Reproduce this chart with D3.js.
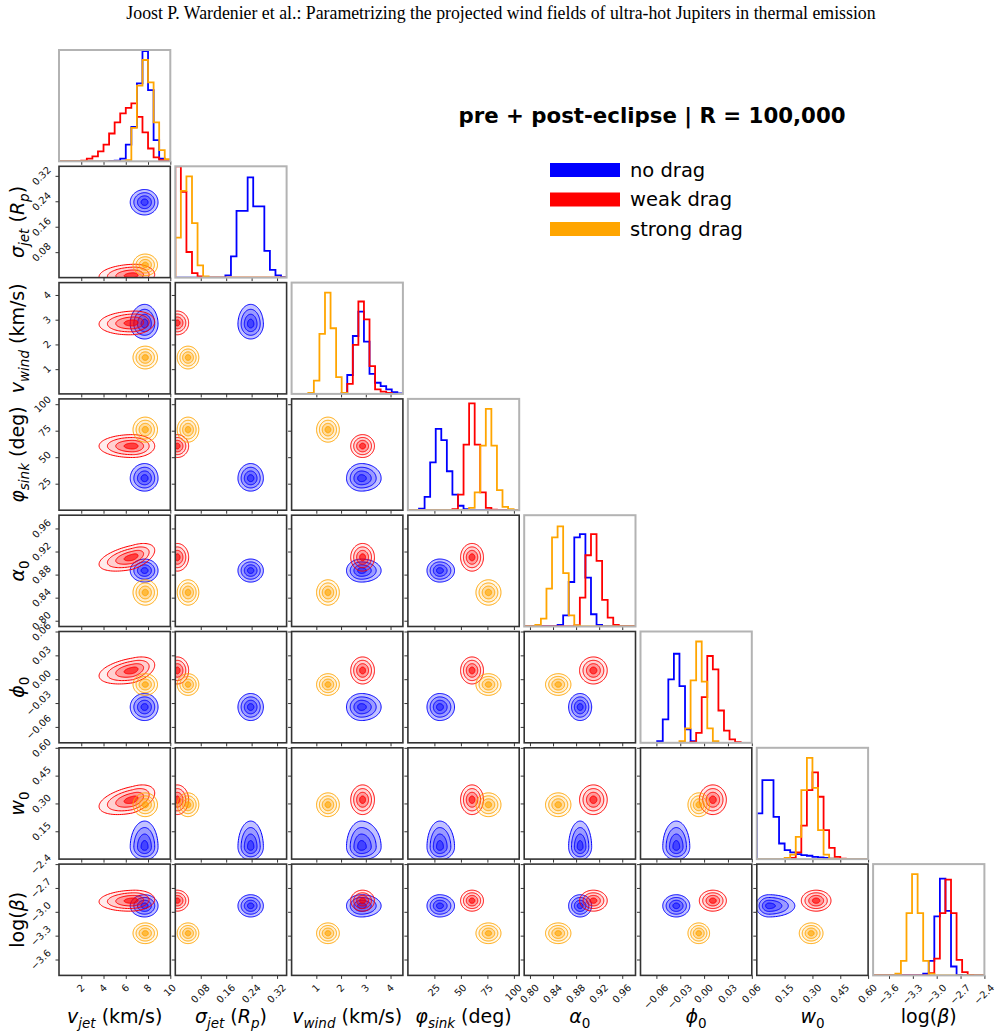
<!DOCTYPE html>
<html>
<head>
<meta charset="utf-8">
<title>Corner plot</title>
<script src="https://cdn.jsdelivr.net/npm/d3@7"></script>
<style>
  body { margin: 0; background: #fff; }
  svg { display: block; }
</style>
</head>
<body>
<script>
// models
const models = ["no drag", "weak drag", "strong drag"];
const modelColors = ["#0000ff", "#ff0000", "#ffa500"];

// parameters: axis ranges, ticks and tick labels
const paramRanges = [[0, 10], [0, 0.35], [0, 4.5], [0, 105], [0.79, 0.983], [-0.08, 0.06], [0, 0.6], [-3.8, -2.4]];
const paramTicks = [
  [2, 4, 6, 8, 10], [0.08, 0.16, 0.24, 0.32], [1, 2, 3, 4], [25, 50, 75, 100],
  [0.80, 0.84, 0.88, 0.92, 0.96], [-0.06, -0.03, 0, 0.03, 0.06], [0.15, 0.30, 0.45, 0.60], [-3.6, -3.3, -3.0, -2.7, -2.4]
];
const paramTickLabels = [
  ["2", "4", "6", "8", "10"], ["0.08", "0.16", "0.24", "0.32"], ["1", "2", "3", "4"], ["25", "50", "75", "100"],
  ["0.80", "0.84", "0.88", "0.92", "0.96"], ["\u22120.06", "\u22120.03", "0.00", "0.03", "0.06"],
  ["0.15", "0.30", "0.45", "0.60"], ["\u22123.6", "\u22123.3", "\u22123.0", "\u22122.7", "\u22122.4"]
];
// axis label pieces: i = italic, r = roman, si / sr = subscript
const paramLabels = [
  [["v", "i"], ["jet", "si"], [" (km/s)", "r"]],
  [["\u03c3", "i"], ["jet", "si"], [" (", "r"], ["R", "i"], ["p", "si"], [")", "r"]],
  [["v", "i"], ["wind", "si"], [" (km/s)", "r"]],
  [["\u03c6", "i"], ["sink", "si"], [" (deg)", "r"]],
  [["\u03b1", "i"], ["0", "sr"]],
  [["\u03d5", "i"], ["0", "sr"]],
  [["w", "i"], ["0", "sr"]],
  [["log(", "r"], ["\u03b2", "i"], [")", "r"]]
];

// 1D histograms, 20 bins over each range (height in % of panel)
const histNoDrag = [
  [0, 0, 0, 0, 0, 0, 0, 0, 0, 0.3, 0.5, 2.4, 15, 31, 70, 99, 64, 19, 2.4, 0.5],
  [0, 0, 0, 0, 0, 0, 0, 0, 0, 2, 19, 60, 60, 90, 64, 64, 24, 7, 2, 0.5],
  [0, 0, 0, 0, 0, 0, 0, 0, 0, 1, 17, 52, 74, 47, 18, 10, 7, 4, 1.5, 0.5],
  [0, 0, 1.5, 12, 43, 73, 63, 35, 14, 4, 1, 0, 0, 0, 0, 0, 0, 0, 0, 0],
  [0, 0, 0, 0, 0, 0, 1.5, 10, 40, 80, 83, 44, 11, 1.5, 0, 0, 0, 0, 0, 0],
  [0, 0, 0, 1.5, 21, 57, 80, 51, 12, 1.5, 0, 0, 0, 0, 0, 0, 0, 0, 0, 0],
  [41, 71, 71, 38, 14, 8, 6, 4.5, 3.6, 3, 2, 1.5, 1, 0.5, 0, 0, 0, 0, 0, 0],
  [0, 0, 0, 0, 0, 0, 0, 0, 0, 1.5, 13, 53, 87, 58, 8, 0.5, 0, 0, 0, 0]
];
const histWeakDrag = [
  [0, 0, 0, 0, 0.5, 2.4, 4.5, 9, 15, 25, 35, 43, 48, 52, 40, 26, 11.5, 3.6, 1, 0.3],
  [100, 77, 23, 4, 1, 0, 0, 0, 0, 0, 0, 0, 0, 0, 0, 0, 0, 0, 0, 0],
  [0, 0, 0, 0, 0, 0, 0, 0, 0, 0.5, 9, 44, 83, 67, 25, 4, 2, 1, 0, 0],
  [0, 0, 0, 0, 0, 0, 0, 0, 1, 14, 59, 96, 59, 16, 2, 0.5, 0, 0, 0, 0],
  [0, 0, 0, 0, 0, 0, 0, 0, 0, 1, 26, 64, 83, 59, 24, 8, 1.5, 0, 0, 0],
  [0, 0, 0, 0, 0, 0, 0, 0, 0, 0.5, 9, 41, 78, 66, 29, 11, 3, 0.5, 0, 0],
  [0, 0, 0, 0, 0, 0, 1, 6, 30, 62, 78, 56, 26, 10, 2, 0.5, 0, 0, 0, 0],
  [0, 0, 0, 0, 0, 0, 0, 0, 0, 0, 2, 15, 56, 86, 56, 14, 3, 0.5, 0, 0]
];
const histStrongDrag = [
  [0, 0, 0, 0, 0, 0, 0, 0, 0, 0, 0, 0, 1, 30, 68, 91, 71, 35, 10, 2],
  [36, 78, 91, 49, 11, 1, 0, 0, 0, 0, 0, 0, 0, 0, 0, 0, 0, 0, 0, 0],
  [0, 0, 0, 1, 12, 54, 91, 59, 15, 1, 0, 0, 0, 0, 0, 0, 0, 0, 0, 0],
  [0, 0, 0, 0, 0, 0, 0, 0, 0, 0, 0, 2, 16, 58, 91, 58, 18, 3, 1, 0],
  [0, 0, 1.5, 7, 34, 80, 90, 48, 10, 1, 0, 0, 0, 0, 0, 0, 0, 0, 0, 0],
  [0, 0, 0, 0, 0, 0, 0, 1.5, 13, 56, 91, 55, 13, 1.5, 0, 0, 0, 0, 0, 0],
  [0, 0, 0, 0, 0, 1, 4, 20, 62, 91, 64, 26, 4, 0.5, 0, 0, 0, 0, 0, 0],
  [0, 0, 0, 0, 1.5, 13, 56, 91, 56, 13, 1.5, 0, 0, 0, 0, 0, 0, 0, 0, 0]
];

// 2D posterior summaries (centre, spread below / above centre)
const meanNoDrag = [7.7, 0.237, 2.82, 30, 0.887, -0.035, 0.065, -2.925];
const sdLowNoDrag = [0.65, 0.02, 0.3, 6, 0.01, 0.0085, 0.035, 0.07];
const sdHighNoDrag = [0.6, 0.02, 0.4, 7, 0.01, 0.0085, 0.07, 0.07];
const meanWeakDrag = [6.6, 0.006, 2.87, 60.5, 0.91, 0.011, 0.32, -2.86];
const sdLowWeakDrag = [1.5, 0.012, 0.24, 5.4, 0.012, 0.0085, 0.04, 0.066];
const sdHighWeakDrag = [1.0, 0.018, 0.24, 5.4, 0.012, 0.0085, 0.04, 0.066];
const meanStrongDrag = [7.75, 0.04, 1.47, 76, 0.849, -0.0067, 0.293, -3.27];
const sdStrongDrag = [0.55, 0.017, 0.23, 5.9, 0.011, 0.0068, 0.032, 0.065];
// tilt of the weak-drag blobs against v_jet
const corrWeakVjet = [0, 0.1, 0.1, 0, 0.5, 0.4, 0.45, 0.1];

const hists = [histNoDrag, histWeakDrag, histStrongDrag];
const means = [meanNoDrag, meanWeakDrag, meanStrongDrag];
const sdLow = [sdLowNoDrag, sdLowWeakDrag, sdStrongDrag];
const sdHigh = [sdHighNoDrag, sdHighWeakDrag, sdStrongDrag];
const levels = [2, 1.5, 1, 0.5];
// fill strength per level, per model (blue fills are denser in the original)
const levelOpacity = [[0.24, 0.2, 0.28, 0.4], [0.07, 0.12, 0.25, 0.6], [0.07, 0.12, 0.25, 0.6]];

function corr(m, i, j) {
  if (m !== 1) return 0;
  if (i === 0) return corrWeakVjet[j];
  if (j === 0) return corrWeakVjet[i];
  return 0;
}

// layout
const n = 8;
const gx0 = 59, gy0 = 50, step = 116.3, size = 111.3;
const font = "'DejaVu Sans', sans-serif";

const svg = d3.select("body").append("svg")
  .attr("width", 1001)
  .attr("height", 1034);

svg.append("text")
  .attr("x", 501).attr("y", 19)
  .attr("text-anchor", "middle")
  .style("font-family", "'Liberation Serif', 'Times New Roman', serif")
  .style("font-size", "17.8px")
  .text("Joost P. Wardenier et al.: Parametrizing the projected wind fields of ultra-hot Jupiters in thermal emission");

const xScales = paramRanges.map(r => d3.scaleLinear().domain(r).range([0, size]));
const yScales = paramRanges.map(r => d3.scaleLinear().domain(r).range([size, 0]));
const histY = d3.scaleLinear().domain([0, 100]).range([size, 0]);

const defs = svg.append("defs");
defs.append("clipPath").attr("id", "panelclip")
  .append("rect").attr("width", size).attr("height", size);

function blobPath(m, ci, ri, k) {
  const xs = xScales[ci], ys = yScales[ri];
  const rho = corr(m, ci, ri);
  const pts = d3.range(0, 96).map(s => {
    const t = s / 96 * 2 * Math.PI;
    const u = k * Math.cos(t);
    const w = k * (rho * Math.cos(t) + Math.sqrt(1 - rho * rho) * Math.sin(t));
    const dx = u * (u < 0 ? sdLow[m][ci] : sdHigh[m][ci]);
    const dy = w * (w < 0 ? sdLow[m][ri] : sdHigh[m][ri]);
    return [xs(means[m][ci] + dx), ys(means[m][ri] + dy)];
  });
  return d3.line().curve(d3.curveCardinalClosed)(pts);
}

function tickLabel(g, text) {
  const lg = g.append("g");
  lg.append("text")
    .attr("text-anchor", "end")
    .attr("transform", "rotate(-45)")
    .style("font-family", font)
    .style("font-size", "9.8px")
    .attr("fill", "#111")
    .text(text);
  return lg;
}

for (let r = 0; r < n; r++) {
  for (let c = 0; c <= r; c++) {
    const g = svg.append("g")
      .attr("transform", "translate(" + (gx0 + c * step) + "," + (gy0 + r * step) + ")");
    const inner = g.append("g").attr("clip-path", "url(#panelclip)");

    if (r === c) {
      // histograms
      const lo = paramRanges[c][0], bw = (paramRanges[c][1] - paramRanges[c][0]) / 20;
      hists.forEach((h, m) => {
        const vals = h[c];
        const pts = [[lo, 0]];
        vals.forEach((v, k) => pts.push([lo + k * bw, v]));
        pts.push([lo + 20 * bw, 0]);
        const line = d3.line()
          .x(d => xScales[c](d[0]))
          .y(d => histY(d[1]))
          .curve(d3.curveStepAfter);
        inner.append("path")
          .attr("d", line(pts))
          .attr("fill", "none")
          .attr("stroke", modelColors[m])
          .attr("stroke-width", 1.8);
      });
    } else {
      // 2D contours
      models.forEach((name, m) => {
        const bg = inner.append("g");
        levels.forEach((k, li) => {
          bg.append("path")
            .attr("d", blobPath(m, c, r, k))
            .attr("fill", modelColors[m])
            .attr("fill-opacity", levelOpacity[m][li])
            .attr("stroke", "none");
        });
        levels.forEach(k => {
          bg.append("path")
            .attr("d", blobPath(m, c, r, k))
            .attr("fill", "none")
            .attr("stroke", modelColors[m])
            .attr("stroke-width", 1);
        });
      });
    }

    // ticks
    const xAxis = d3.axisBottom(xScales[c]).tickValues(paramTicks[c]).tickSize(3.5).tickFormat("");
    const xa = g.append("g").attr("transform", "translate(0," + size + ")").call(xAxis);
    xa.select(".domain").remove();
    xa.selectAll("line").attr("stroke", "#333");
    if (r !== c) {
      const yAxis = d3.axisLeft(yScales[r]).tickValues(paramTicks[r]).tickSize(3.5).tickFormat("");
      const ya = g.append("g").call(yAxis);
      ya.select(".domain").remove();
      ya.selectAll("line").attr("stroke", "#333");
    }

    // frame
    g.append("rect")
      .attr("width", size).attr("height", size)
      .attr("fill", "none")
      .attr("stroke", r === c ? "#b3b3b3" : "#333")
      .attr("stroke-width", r === c ? 2 : 1.6);

    // tick labels
    if (r === n - 1) {
      paramTicks[c].forEach((v, i) => {
        const lg = tickLabel(g, paramTickLabels[c][i]);
        const bb = lg.node().getBBox();
        lg.attr("transform", "translate(" + (xScales[c](v) - 0.5 - (bb.x + bb.width / 2)) + "," + (size + 6.5 - bb.y) + ")");
      });
    }
    if (c === 0 && r > 0) {
      paramTicks[r].forEach((v, i) => {
        const lg = tickLabel(g, paramTickLabels[r][i]);
        const bb = lg.node().getBBox();
        lg.attr("transform", "translate(" + (-6 - (bb.x + bb.width)) + "," + (yScales[r](v) - (bb.y + bb.height / 2)) + ")");
      });
    }
  }
}

// axis labels
function axisLabel(parts, x, y, rotate) {
  const t = svg.append("text")
    .attr("text-anchor", "middle")
    .attr("transform", "translate(" + x + "," + y + ")" + (rotate ? " rotate(-90)" : ""))
    .style("font-family", font)
    .style("font-size", "19px")
    .attr("fill", "#000");
  let shifted = false;
  parts.forEach(([txt, st]) => {
    const sub = st[0] === "s";
    const sp = t.append("tspan").text(txt);
    if (st.endsWith("i")) sp.style("font-style", "italic");
    if (sub) sp.style("font-size", "13.5px");
    if (sub && !shifted) { sp.attr("dy", "4.5"); shifted = true; }
    if (!sub && shifted) { sp.attr("dy", "-4.5"); shifted = false; }
  });
}

for (let i = 0; i < n; i++) {
  axisLabel(paramLabels[i], gx0 + i * step + size / 2, 1023, false);
  if (i > 0) axisLabel(paramLabels[i], 24, gy0 + i * step + size / 2, true);
}

// legend
svg.append("text")
  .attr("x", 652).attr("y", 123)
  .attr("text-anchor", "middle")
  .style("font-family", font)
  .style("font-size", "21.3px")
  .style("font-weight", "bold")
  .text("pre + post-eclipse | R = 100,000");

const legendY = d3.scalePoint().domain(models).range([170, 229]);
models.forEach((name, m) => {
  svg.append("rect")
    .attr("x", 550).attr("y", legendY(name) - 7)
    .attr("width", 70).attr("height", 14)
    .attr("fill", modelColors[m]);
  svg.append("text")
    .attr("x", 630).attr("y", legendY(name) + 6.5)
    .style("font-family", font)
    .style("font-size", "19.5px")
    .text(name);
});
</script>
</body>
</html>
